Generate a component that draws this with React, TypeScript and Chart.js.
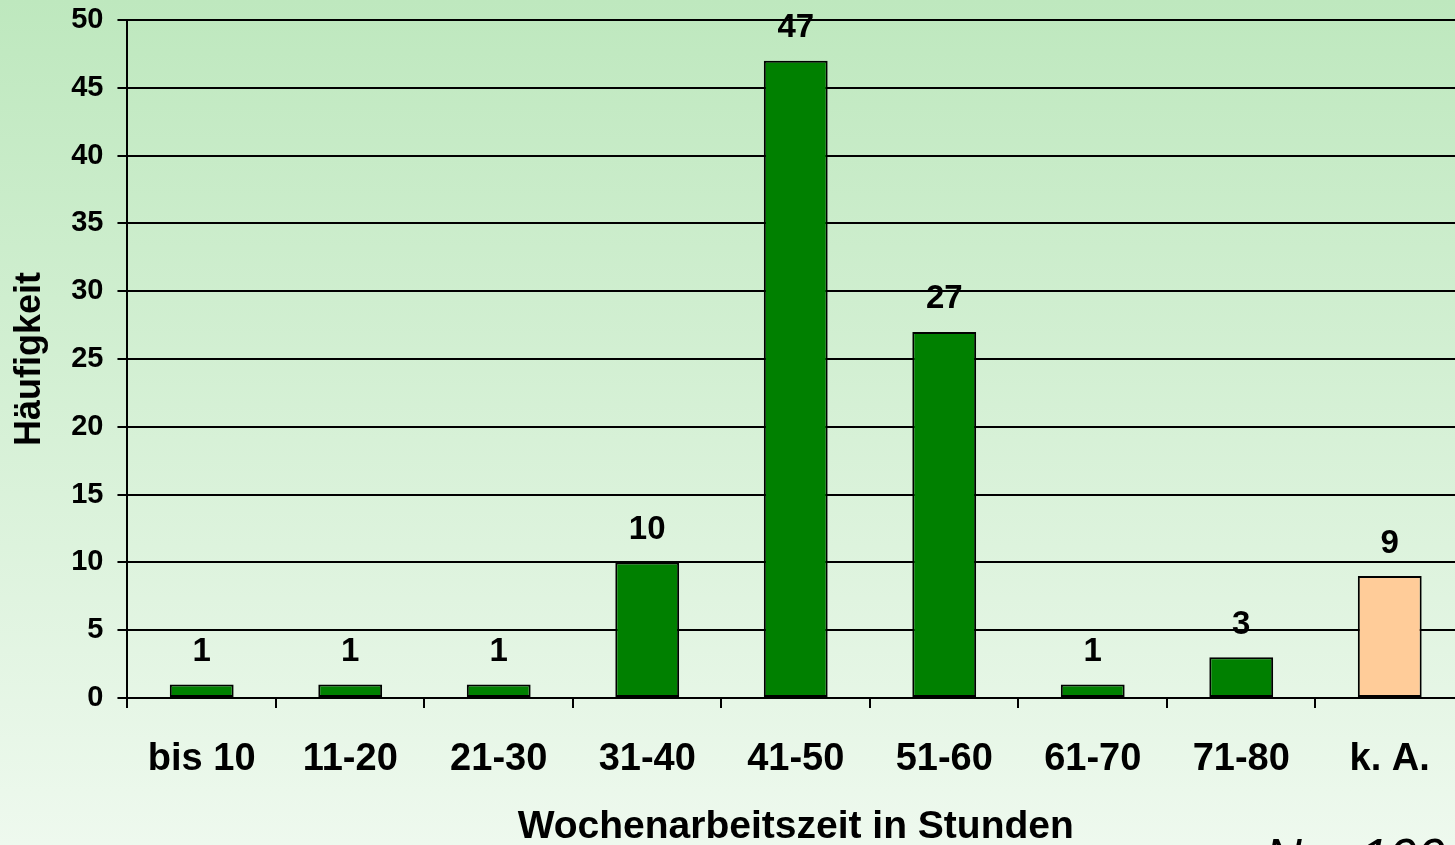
import React, { useEffect, useRef } from "react";
import { Chart, registerables } from "chart.js";

Chart.register(...registerables);

const categories = ["bis 10", "11-20", "21-30", "31-40", "41-50", "51-60", "61-70", "71-80", "k. A."];
const counts = [1, 1, 1, 10, 47, 27, 1, 3, 9];
const barColors = ["#008000", "#008000", "#008000", "#008000", "#008000", "#008000", "#008000", "#008000", "#FFCC99"];
const yTicks = [0, 5, 10, 15, 20, 25, 30, 35, 40, 45, 50];
const xTitle = "Wochenarbeitszeit in Stunden";
const yTitle = "Häufigkeit";
const noteText = "N = 100";

const FONT = "'Liberation Sans', Arial, sans-serif";

const bgPlugin = {
  id: "bgGradient",
  beforeDraw(chart: any) {
    const { ctx, width, height } = chart;
    const g = ctx.createLinearGradient(0, 0, 0, height);
    g.addColorStop(0, "rgb(190,232,190)");
    g.addColorStop(1, "rgb(238,249,238)");
    ctx.save();
    ctx.fillStyle = g;
    ctx.fillRect(0, 0, width, height);
    ctx.restore();
  },
};

const labelPlugin = {
  id: "valueLabels",
  afterDatasetsDraw(chart: any) {
    const { ctx } = chart;
    const meta = chart.getDatasetMeta(0);
    ctx.save();
    ctx.font = `bold 33px ${FONT}`;
    ctx.fillStyle = "#000";
    ctx.textAlign = "center";
    ctx.textBaseline = "bottom";
    meta.data.forEach((bar: any, i: number) => {
      ctx.fillText(String(counts[i]), bar.x, bar.y - 16);
    });
    ctx.restore();
  },
  afterDraw(chart: any) {
    const { ctx } = chart;
    ctx.save();
    ctx.font = `italic 51px ${FONT}`;
    ctx.fillStyle = "#000";
    ctx.textAlign = "left";
    ctx.textBaseline = "alphabetic";
    ctx.fillText(noteText, 1265, 875);
    ctx.restore();
  },
};

export default function App() {
  const ref = useRef<HTMLCanvasElement | null>(null);

  useEffect(() => {
    document.body.style.margin = "0";
    document.body.style.overflow = "hidden";
    if (!ref.current) return;
    const chart = new Chart(ref.current, {
      type: "bar",
      data: {
        labels: categories,
        datasets: [
          {
            data: counts,
            backgroundColor: barColors,
            borderColor: "#000",
            borderWidth: 2,
            borderSkipped: false,
            barPercentage: 0.43,
            categoryPercentage: 1,
          },
        ],
      },
      options: {
        animation: false,
        responsive: false,
        maintainAspectRatio: false,
        layout: { padding: { top: 20, right: 0, bottom: 0, left: 0 } },
        plugins: {
          legend: { display: false },
          tooltip: { enabled: false },
        },
        scales: {
          x: {
            afterFit(axis: any) {
              axis.height = 147;
            },
            grid: {
              display: true,
              drawOnChartArea: false,
              drawTicks: true,
              tickLength: 10,
              color: "#000",
              lineWidth: 2,
              offset: true,
            },
            border: { display: true, color: "#000", width: 2 },
            ticks: {
              color: "#000",
              font: { family: FONT, size: 38, weight: "bold" },
              padding: 29,
              maxRotation: 0,
              autoSkip: false,
            },
            title: {
              display: true,
              text: xTitle,
              color: "#000",
              font: { family: FONT, size: 39, weight: "bold" },
              padding: { top: 0, bottom: -6 },
            },
          },
          y: {
            min: 0,
            max: 50,
            afterBuildTicks(axis: any) {
              axis.ticks = yTicks.map((v) => ({ value: v }));
            },
            afterFit(axis: any) {
              axis.paddingTop = 0;
              axis.paddingBottom = 0;
            },
            grid: {
              color: "#000",
              lineWidth: 2,
              tickLength: 10,
            },
            border: { display: true, color: "#000", width: 2 },
            ticks: {
              color: "#000",
              font: { family: FONT, size: 29, weight: "bold" },
              padding: 14,
            },
            title: {
              display: true,
              text: yTitle,
              color: "#000",
              font: { family: FONT, size: 36, weight: "bold" },
              padding: { top: 8, bottom: 6 },
            },
          },
        },
      },
      plugins: [bgPlugin, labelPlugin],
    });
    return () => chart.destroy();
  }, []);

  return (
    <div style={{ width: 1455, height: 845, overflow: "hidden", position: "relative" }}>
      <canvas ref={ref} width={1464} height={845} style={{ width: 1464, height: 845, display: "block" }} />
    </div>
  );
}
